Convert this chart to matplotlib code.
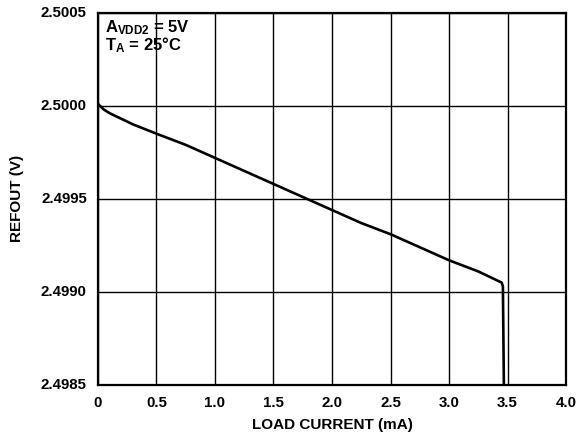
import matplotlib
matplotlib.use("Agg")
import matplotlib.pyplot as plt

plt.rcParams['font.family'] = ['Liberation Sans', 'DejaVu Sans']
plt.rcParams['mathtext.fontset'] = 'custom'
plt.rcParams['mathtext.rm'] = 'Liberation Sans'
plt.rcParams['mathtext.bf'] = 'Liberation Sans:bold'
plt.rcParams['mathtext.it'] = 'Liberation Sans:italic'

load_current = [0.0, 0.05, 0.1, 0.2, 0.3, 0.5, 0.75, 1.0, 1.25, 1.5, 1.75, 2.0,
                2.25, 2.5, 2.75, 3.0, 3.25, 3.45, 3.46, 3.47]
refout = [2.50001, 2.49998, 2.49996, 2.49993, 2.49990, 2.49985, 2.49979, 2.49972,
          2.49965, 2.49958, 2.49951, 2.49944, 2.49937, 2.49931, 2.49924, 2.49917,
          2.49911, 2.49905, 2.49903, 2.49840]

x_ticks = [0, 0.5, 1.0, 1.5, 2.0, 2.5, 3.0, 3.5, 4.0]
x_labels = ['0', '0.5', '1.0', '1.5', '2.0', '2.5', '3.0', '3.5', '4.0']
y_ticks = [2.4985, 2.4990, 2.4995, 2.5000, 2.5005]
y_labels = ['2.4985', '2.4990', '2.4995', '2.5000', '2.5005']

fig = plt.figure(figsize=(5.83, 4.38), dpi=100)
ax = fig.add_axes([0.168, 0.121, 0.803, 0.850])

ax.plot(load_current, refout, color='black', lw=1.9, solid_joinstyle='round')

ax.set_xlim(0, 4.0)
ax.set_ylim(2.4985, 2.5005)
ax.set_xticks(x_ticks)
ax.set_xticklabels(x_labels, fontsize=10.8, fontweight='bold')
ax.set_yticks(y_ticks)
ax.set_yticklabels(y_labels, fontsize=10.8, fontweight='bold')
ax.tick_params(length=0, pad=8)
for lbl in ax.get_yticklabels():
    lbl.set_verticalalignment('center')

ax.grid(True, color='black', lw=1.0)
ax.set_axisbelow(True)
for s in ax.spines.values():
    s.set_linewidth(1.6)

ax.set_xlabel('LOAD CURRENT (mA)', fontsize=11, fontweight='bold', labelpad=6)
ax.set_ylabel('REFOUT (V)', fontsize=11, fontweight='bold', labelpad=12)

ax.text(0.015, 0.948, r'$\mathbf{A_{VDD2}}$ = 5V', transform=ax.transAxes,
        fontsize=12, fontweight='bold', va='baseline', ha='left')
ax.text(0.015, 0.899, r'$\mathbf{T_{A}}$ = 25°C', transform=ax.transAxes,
        fontsize=12, fontweight='bold', va='baseline', ha='left')

fig.savefig('out.png', dpi=100)
